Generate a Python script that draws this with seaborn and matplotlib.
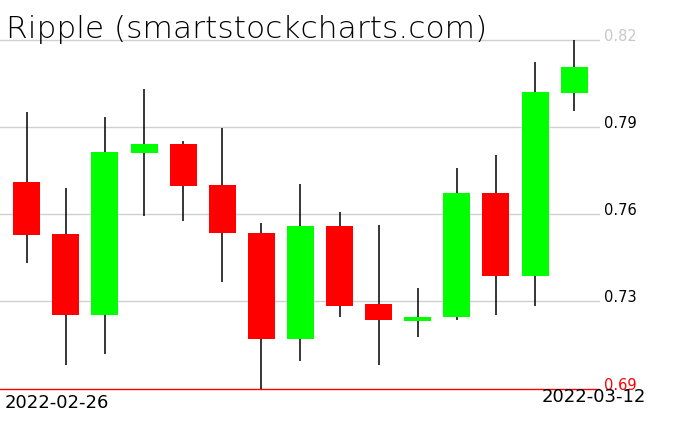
import math
import matplotlib
matplotlib.use("Agg")
import matplotlib.pyplot as plt
import seaborn as sns
import pandas as pd

# ---- data ----
dates = pd.date_range("2022-02-26", "2022-03-12", freq="D")
opens = [0.7710, 0.7531, 0.7253, 0.7811, 0.7841, 0.7700, 0.7534, 0.7170,
         0.7559, 0.7290, 0.7232, 0.7246, 0.7673, 0.7387, 0.8018]
closes = [0.7529, 0.7253, 0.7814, 0.7841, 0.7698, 0.7536, 0.7170, 0.7559,
          0.7284, 0.7236, 0.7245, 0.7673, 0.7387, 0.8021, 0.8107]
highs = [0.7951, 0.7690, 0.7934, 0.8031, 0.7851, 0.7897, 0.7569, 0.7703,
         0.7606, 0.7563, 0.7345, 0.7759, 0.7804, 0.8125, 0.8200]
lows = [0.7430, 0.7080, 0.7118, 0.7592, 0.7577, 0.7367, 0.6997, 0.7094,
        0.7246, 0.7080, 0.7177, 0.7236, 0.7253, 0.7284, 0.7956]
grid_ticks = [0.73, 0.76, 0.79]
title = "Ripple (smartstockcharts.com)"

df = pd.DataFrame({"date": dates, "open": opens, "close": closes,
                   "high": highs, "low": lows})
df["i"] = range(len(df))
df["up"] = df["close"] >= df["open"]
df["bottom"] = df[["open", "close"]].min(axis=1)
df["height"] = (df["close"] - df["open"]).abs()

sns.set_theme(style="white")
plt.rcParams["font.family"] = ["DejaVu Sans"]

W, H = 676, 431
fig = plt.figure(figsize=(W / 100, H / 100), dpi=100)
ax = fig.add_axes([0, 0, 600 / W, 1])
ax.set_facecolor("white")
for s in ax.spines.values():
    s.set_visible(False)
ax.set_xticks([])
ax.set_yticks([])

# scale: 0.79 -> pixel 128 from top, 2900 px per unit
ppu = 2900.0
ytop = 0.79 + 128 / ppu
ybot = 0.79 - (H - 128) / ppu
ax.set_ylim(ybot, ytop)
step = 39.1
ax.set_xlim(-26.7 / step, (600 - 26.7) / step)

hi = max(highs)
lo = min(lows)
grid_color = "#d0d0d0"
for v in grid_ticks + [hi]:
    ax.axhline(v, color=grid_color, lw=1.0, zorder=0)
ax.axhline(lo, color="#ff0000", lw=1.0, zorder=0)

# wicks
ax.vlines(df["i"], df["low"], df["high"], color="black", lw=1.1, zorder=2)
# bodies
colors = ["#00ff00" if u else "#ff0000" for u in df["up"]]
ax.bar(df["i"], df["height"], bottom=df["bottom"], width=27 / step,
       color=colors, edgecolor="none", zorder=3)

def ypix(v):
    return (v - ybot) / (ytop - ybot)

lx = 604 / W
for v in grid_ticks:
    fig.text(lx, ypix(v), f"{v:.2f}", fontsize=10.5, color="black",
             ha="left", va="baseline")
fig.text(lx, ypix(hi), f"{hi:.2f}", fontsize=10.5, color="#c8c8c8",
         ha="left", va="baseline")
fig.text(lx, ypix(lo), f"{math.floor(lo * 100 + 1e-9) / 100:.2f}", fontsize=10.5,
         color="#ff0000", ha="left", va="baseline")

fig.text(5 / W, 1 - 408 / H, dates[0].strftime("%Y-%m-%d"), fontsize=13,
         color="black", ha="left", va="baseline")
fig.text(646 / W, 1 - 402 / H, dates[-1].strftime("%Y-%m-%d"), fontsize=13,
         color="black", ha="right", va="baseline")

fig.text(6 / W, 1 - 38 / H, title, fontsize=22.5, color="black",
         ha="left", va="baseline", fontweight="light")

fig.savefig("out.png", dpi=100)
